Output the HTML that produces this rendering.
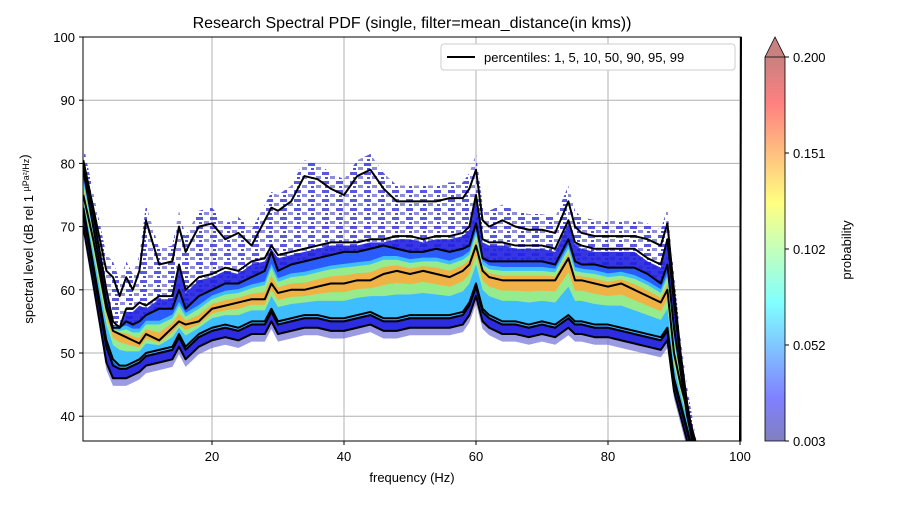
<!DOCTYPE html>
<html><head><meta charset="utf-8"><style>
body{margin:0;background:#fff;font-family:"Liberation Sans","DejaVu Sans",sans-serif}
svg text{font-family:"Liberation Sans","DejaVu Sans",sans-serif;fill:#000}
</style></head><body>
<svg id="chart" width="900" height="500" viewBox="0 0 900 500">
<defs>
<clipPath id="pc"><rect x="83" y="37" width="658" height="404"/></clipPath>
<linearGradient id="cbg" x1="0" y1="1" x2="0" y2="0">
<stop offset="0" stop-color="rgb(128,128,191)"/>
<stop offset="0.11" stop-color="rgb(128,128,255)"/>
<stop offset="0.36" stop-color="rgb(128,255,255)"/>
<stop offset="0.62" stop-color="rgb(255,255,128)"/>
<stop offset="0.88" stop-color="rgb(255,128,128)"/>
<stop offset="1" stop-color="rgb(200,128,128)"/>
</linearGradient>
<pattern id="speck" width="14" height="9" patternUnits="userSpaceOnUse">
<rect width="14" height="9" fill="#ffffff" fill-opacity="0"/>
<rect x="0" y="1" width="7" height="3" fill="#3030d8"/>
<rect x="8" y="5" width="5" height="3" fill="#7070d0"/>
<rect x="3" y="6" width="3" height="2" fill="#2020e0"/>
</pattern>
</defs>
<text x="412" y="28" font-size="16" text-anchor="middle">Research Spectral PDF (single, filter=mean_distance(in kms))</text>
<g id="grid"></g>
<g id="bands" clip-path="url(#pc)"></g>
<g id="lines" clip-path="url(#pc)"></g>
<line x1="740" y1="441" x2="741" y2="37" stroke="#000" stroke-width="2"/>
<rect x="83" y="37" width="658" height="404" fill="none" stroke="#000" stroke-width="1"/>
<g id="axes"></g>
<text x="412" y="482" font-size="13" text-anchor="middle">frequency (Hz)</text>
<text transform="translate(33,239) rotate(-90)" font-size="13" text-anchor="middle">spectral level (dB rel 1 <tspan font-size="9" dy="-4">µPa²/Hz</tspan>)</text>
<g>
<rect x="441" y="44" width="294" height="26" rx="3" fill="#fff" stroke="#ccc"/>
<line x1="447" y1="57" x2="475" y2="57" stroke="#000" stroke-width="2"/>
<text x="484" y="62" font-size="13">percentiles: 1, 5, 10, 50, 90, 95, 99</text>
</g>
<g>
<rect x="765" y="57" width="20" height="384" fill="url(#cbg)"/>
<polygon points="765,57 775,37 785,57" fill="rgb(200,128,128)" stroke="#000" stroke-width="0.8"/>
<polyline points="765,57 765,441 785,441 785,57" fill="none" stroke="#000" stroke-width="0.8"/>
<g id="cbticks"></g>
<text transform="translate(851,250) rotate(-90)" font-size="13" text-anchor="middle">probability</text>
</g>
</svg>
<script>
const freqs=[0.5,2,4,5,6,7,8,9,10,12,14,15,16,18,20,22,24,26,28,29,30,32,34,36,38,40,42,44,46,48,50,52,54,56,58,59,60,61,62,64,66,68,70,72,74,75,76,78,80,82,84,86,88,89,90,91,92,93,94];
const p99=[80.5,73,63,62,59,62,60,63,71,64,64.5,70,66,70,70.5,68,69,67,71,73,72.5,74,78,77.5,76,75,78,79,76,74,74,74,74,74.5,74.5,76,79,71,70,71,70,69.5,69.5,69,74,70,69,68.5,68.5,68.5,68.5,68,67,70.5,60,50,42,36,30];
const p95=[80,72,60,55,54,57,57,58,57.5,59,59,64,60,62,62.5,63.5,63,64.5,65,67,65.5,66,66.5,67,67.5,67.5,67.5,68,68,68.5,68.5,68,68.5,68.5,69,70,75,68,67.5,67.5,67,67,67,66.5,71,67.5,67,66.5,66.5,66.5,66.5,65,64,68,58,49,41,36,30];
const p90=[79,70,58,54,54,55,54.5,55,56,57,57,60,57,59,60,61,61,62,63,66,63,64,64.5,65,65.5,66,66,66.5,67,66.5,66,66,66.5,66,66.5,67,70.5,65,64.5,64.5,64.5,64.5,64.5,64,68,64.5,64,64,63.5,63.5,63.5,62.5,61,64,54,47,40,35,30];
const p50=[75,68,57,53.5,53,52.5,52,51.5,53,52,54,55,54.5,55,57,57.5,58,58.5,58.5,61,59.5,60,60,60.5,61,61,61.5,61.5,62.5,63,62.5,63,62.5,62,63,64,67,63,62,61.5,61.5,61.5,61.5,61.5,65,61.5,61.5,61,60.5,61,60,59,58,60,50,45,41,37,33];
const p10=[73,64,52,49,48,48,48.5,49,50,50.5,51,53,51,53,54,54.5,54,55,55,57,55,55.5,56,56,55.5,55.5,56,56.5,55.5,55.5,56,56,56,56,56.5,58,61,57,56,55,55,54.5,55,54.5,56,55,55,54.5,54.5,54,53.5,53,52.5,54,46,42,38,34,30];
const p5=[72,63,51,48,47.5,47.5,48,48.5,49.5,50,50.5,52.5,50.5,52.5,53.5,54,53.5,54.5,54.5,56.5,54.5,55,55.5,55.5,55,55,55.5,56,55,55,55.5,55.5,55.5,55.5,56,57.5,60.5,56.5,55.5,54.5,54.5,54,54.5,54,55.5,54.5,54.5,54,54,53.5,53,52.5,52,53.5,45.5,41.5,37.5,33.5,29.5];
const p1=[70,61,48.5,46,46,46,46.5,47,48,48.5,49,51,49,51,52,52.5,52,53,53,55,53,53.5,54,54,53.5,53.5,54,54.5,53.5,53.5,54,54,54,54,54.5,56,59,55,54,53,53,52.5,53,52.5,54,53,53,52.5,52.5,52,51.5,51,50.5,52,44,40,36,32,28];
const xTicks=[20,40,60,80,100];
const yTicks=[40,50,60,70,80,90,100];
const cbTicks=["0.003","0.052","0.102","0.151","0.200"];

const NS="http://www.w3.org/2000/svg";
function X(f){return 80+f*6.6;}
function Y(v){return 37+(100-v)*6.32;}
function mk(tag,attrs,parent){const e=document.createElementNS(NS,tag);for(const k in attrs)e.setAttribute(k,attrs[k]);parent.appendChild(e);return e;}
const grid=document.getElementById('grid'),axes=document.getElementById('axes');
xTicks.forEach(t=>{
 const g=mk('line',{x1:X(t),x2:X(t),y1:37,y2:441,stroke:'#b0b0b0','stroke-width':1},grid);
 
 
 mk('line',{x1:X(t),x2:X(t),y1:441,y2:445,stroke:'#000'},axes);
 const tx=mk('text',{x:X(t),y:461,'font-size':13,'text-anchor':'middle'},axes);tx.textContent=t;
 
 
});
yTicks.forEach(t=>{
 const g=mk('line',{x1:83,x2:741,y1:Y(t),y2:Y(t),stroke:'#b0b0b0','stroke-width':1},grid);
 
 
 mk('line',{x1:79,x2:83,y1:Y(t),y2:Y(t),stroke:'#000'},axes);
 const tx=mk('text',{x:75,y:Y(t)+5,'font-size':13,'text-anchor':'end'},axes);tx.textContent=t;
 
 
});
const cbg=document.getElementById('cbticks');
cbTicks.forEach((t,i)=>{
 const y=441-i*96;
 mk('line',{x1:785,x2:789,y1:y,y2:y,stroke:'#000'},cbg);
 const tx=mk('text',{x:793,y:y+5,'font-size':13},cbg);tx.textContent=t;
 
 
});
function band(lo,hi,fill,op,name,dlo,dhi){
 let pts=[];
 freqs.forEach((f,i)=>pts.push(X(f)+','+Y(hi[i]+(dhi||0))));
 for(let i=freqs.length-1;i>=0;i--)pts.push(X(freqs[i])+','+Y(lo[i]-(dlo||0)));
 const p=mk('polygon',{points:pts.join(' '),fill:fill,'fill-opacity':op},document.getElementById('bands'));
 
 
}
const mlo=p50.map((v,i)=>(v+p10[i])/2), mhi=p50.map((v,i)=>(v+p90[i])/2);
const nlo=p50.map((v,i)=>(v+mlo[i])/2), nhi=p50.map((v,i)=>(v+mhi[i])/2);
band(p90,p99,'url(#speck)',0.8,'pdf-sparse-upper',0,2.5);
band(p1,p90,'#7070d8',0.7,'pdf-lower-haze',1.2,0);
band(p1,p95,'#2020e0',0.9,'pdf-band-1-95',0,-0.5);
band(p5,p90,'#2a60ff',0.9,'pdf-band-5-90',0,0);
band(p10,mhi,'#40c8ff',0.9,'pdf-band-10-mid',0.3,0.6);
band(mlo,mhi,'#a0f080',0.9,'pdf-band-core',0,0);
band(nlo,nhi,'#ffd040',0.8,'pdf-band-peak',0,0);
band(nlo,nhi,'#ff6030',0.3,'pdf-band-max',0,0);
const series=[['p1',p1],['p5',p5],['p10',p10],['p50',p50],['p90',p90],['p95',p95],['p99',p99]];
series.forEach(([n,arr])=>{
 const pl=mk('polyline',{points:freqs.map((f,i)=>X(f)+','+Y(arr[i])).join(' '),fill:'none',stroke:'#000','stroke-width':2,'stroke-linejoin':'round'},document.getElementById('lines'));
 
 
});
</script>
</body></html>
